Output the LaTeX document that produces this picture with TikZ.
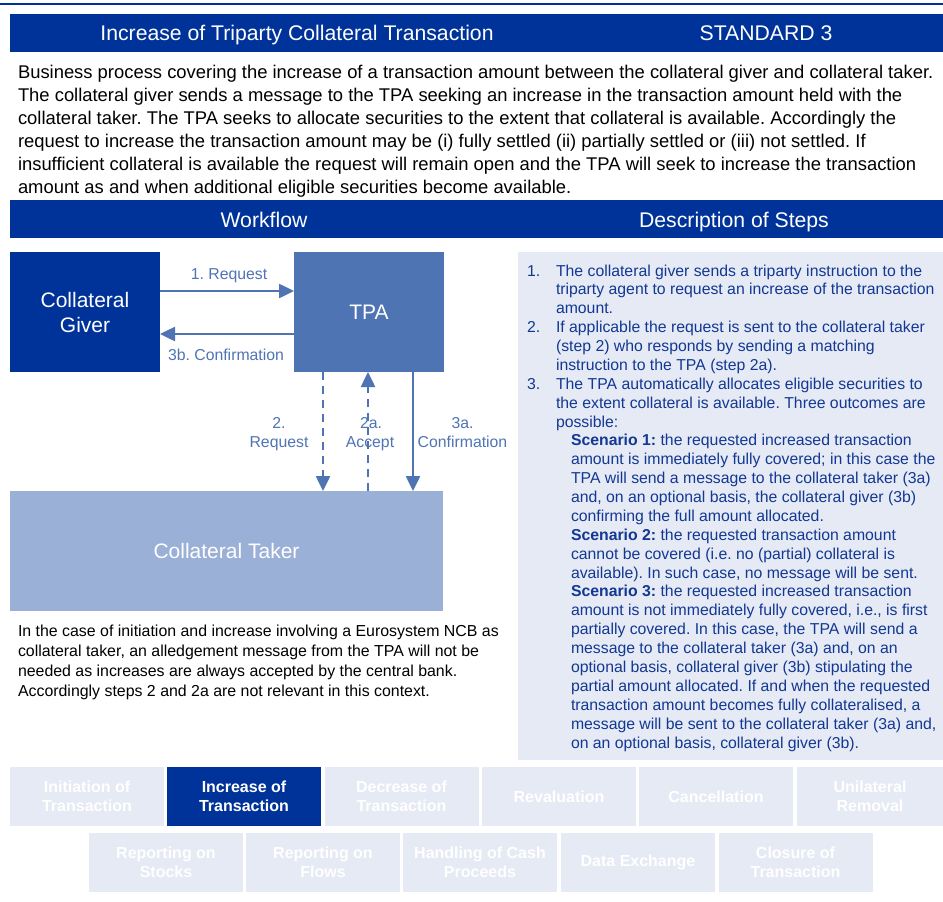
\documentclass[tikz,border=0pt]{standalone}
\usepackage{fontspec}
\setmainfont{Liberation Sans}
\usetikzlibrary{arrows.meta}
\definecolor{dkblue}{HTML}{003399}
\definecolor{mdblue}{HTML}{4F74B4}
\definecolor{ltblue}{HTML}{9AB0D6}
\definecolor{panel}{HTML}{E6EAF4}
\definecolor{desctext}{HTML}{123893}
\newcommand{\fsz}[2]{\fontsize{#1}{#2}\selectfont}
\begin{document}
\frenchspacing
\begin{tikzpicture}[x=1pt,y=-1pt,
  every node/.style={inner sep=0pt, outer sep=0pt},
  bar/.style={fill=dkblue, draw=none},
  bartext/.style={text=white, font=\fsz{21.2}{25}, anchor=base},
  blockbox/.style={minimum width=150pt, minimum height=120pt, text=white, font=\fsz{21}{25}, align=center},
  arr/.style={draw=mdblue, line width=2.5pt, -{Triangle[length=15pt,width=14pt]}},
  dashedarr/.style={arr, dash pattern=on 8pt off 6pt},
  lbl/.style={text=mdblue, font=\fsz{15.8}{19}, anchor=base},
  paraline/.style={anchor=base west, font=\fsz{18.4}{23}, text=black},
  noteline/.style={anchor=base west, font=\fsz{15.9}{20}, text=black},
  descline/.style={anchor=base west, font=\fsz{15.8}{19}, text=desctext},
  tab/.style={fill=panel, minimum width=154pt, minimum height=59pt, text=white, font=\bfseries\fsz{16}{19}, align=center},
  seltab/.style={tab, fill=dkblue}
]
\useasboundingbox (0,0) rectangle (943,902);
\fill[white] (0,0) rectangle (943,902);
% top rule and header
\fill[dkblue] (0,3) rectangle (943,5);
\node[bar, minimum width=933pt, minimum height=38pt, anchor=north west] (header) at (10,14) {};
\node[bartext] (title) at (297,40) {Increase of Triparty Collateral Transaction};
\node[bartext] (std) at (766,40) {STANDARD 3};
% intro paragraph
\foreach \t [count=\i] in {
 {Business process covering the increase of a transaction amount between the collateral giver and collateral taker.},
 {The collateral giver sends a message to the TPA seeking an increase in the transaction amount held with the},
 {collateral taker. The TPA seeks to allocate securities to the extent that collateral is available. Accordingly the},
 {request to increase the transaction amount may be (i) fully settled (ii) partially settled or (iii) not settled. If},
 {insufficient collateral is available the request will remain open and the TPA will seek to increase the transaction},
 {amount as and when additional eligible securities become available.}}
 \node[paraline] (p\i) at (18,{78+23*(\i-1)}) {\t};
% section bar
\node[bar, minimum width=933pt, minimum height=38pt, anchor=north west] (secbar) at (10,200) {};
\node[bartext] (wf) at (264,227) {Workflow};
\node[bartext] (ds) at (734,227) {Description of Steps};
% workflow boxes
\node[blockbox, fill=dkblue] (giver) at (85,312) {Collateral\\Giver};
\node[blockbox, fill=mdblue] (tpa) at (369,312) {TPA};
\node[blockbox, fill=ltblue, minimum width=433pt] (taker) at (226.5,551) {Collateral Taker};
\coordinate (yreq) at (0,291);
\coordinate (yconf) at (0,334);
\coordinate (xa) at (323,0);
\coordinate (xb) at (368,0);
\coordinate (xc) at (413,0);
\draw[arr] (giver.east |- yreq) -- (tpa.west |- yreq);
\draw[arr] (tpa.west |- yconf) -- (giver.east |- yconf);
\draw[dashedarr] (tpa.south -| xa) -- (taker.north -| xa);
\draw[dashedarr] (taker.north -| xb) -- (tpa.south -| xb);
\draw[arr] (tpa.south -| xc) -- (taker.north -| xc);
\node[lbl] (l1) at (229,279) {1. Request};
\node[lbl] (l3b) at (226,360) {3b. Confirmation};
\node[lbl] (l2a) at (279,428) {2.};
\node[lbl] (l2b) at (279,447) {Request};
\node[lbl] (l2aa) at (371,428) {2a.};
\node[lbl] (l2ab) at (370,447) {Accept};
\node[lbl] (l3aa) at (462.5,428) {3a.};
\node[lbl] (l3ab) at (462.5,447) {Confirmation};
% note
\foreach \t [count=\i] in {
 {In the case of initiation and increase involving a Eurosystem NCB as},
 {collateral taker, an alledgement message from the TPA will not be},
 {needed as increases are always accepted by the central bank.},
 {Accordingly steps 2 and 2a are not relevant in this context.}}
 \node[noteline] (n\i) at (18,{636+20.3*(\i-1)}) {\t};
% description panel
\node[fill=panel, minimum width=425pt, minimum height=508pt, anchor=north west] (desc) at (518,252) {};
\node[descline] (num1) at (527,276) {1.};
\node[descline] (num2) at (527,{276+3*18.88}) {2.};
\node[descline] (num3) at (527,{276+6*18.88}) {3.};
\foreach \xx/\t [count=\i] in {
 556/{The collateral giver sends a triparty instruction to the},
 556/{triparty agent to request an increase of the transaction},
 556/{amount.},
 556/{If applicable the request is sent to the collateral taker},
 556/{(step 2) who responds by sending a matching},
 556/{instruction to the TPA (step 2a).},
 556/{The TPA automatically allocates eligible securities to},
 556/{the extent collateral is available. Three outcomes are},
 556/{possible:},
 571/{\textbf{Scenario 1:} the requested increased transaction},
 571/{amount is immediately fully covered; in this case the},
 571/{TPA will send a message to the collateral taker (3a)},
 571/{and, on an optional basis, the collateral giver (3b)},
 571/{confirming the full amount allocated.},
 571/{\textbf{Scenario 2:} the requested transaction amount},
 571/{cannot be covered (i.e. no (partial) collateral is},
 571/{available). In such case, no message will be sent.},
 571/{\textbf{Scenario 3:} the requested increased transaction},
 571/{amount is not immediately fully covered, i.e., is first},
 571/{partially covered. In this case, the TPA will send a},
 571/{message to the collateral taker (3a) and, on an},
 571/{optional basis, collateral giver (3b) stipulating the},
 571/{partial amount allocated. If and when the requested},
 571/{transaction amount becomes fully collateralised, a},
 571/{message will be sent to the collateral taker (3a) and,},
 571/{on an optional basis, collateral giver (3b).}}
 \node[descline] (d\i) at (\xx,{276+18.88*(\i-1)}) {\t};
% navigation tabs
\node[tab] (t1) at (87,796.5) {Initiation of\\Transaction};
\node[seltab] (t2) at (244,796.5) {Increase of\\Transaction};
\node[tab] (t3) at (401.5,796.5) {Decrease of\\Transaction};
\node[tab] (t4) at (559,796.5) {Revaluation};
\node[tab] (t5) at (716,796.5) {Cancellation};
\node[tab, minimum width=146pt] (t6) at (870,796.5) {Unilateral\\Removal};
\node[tab] (t7) at (166,862.5) {Reporting on\\Stocks};
\node[tab] (t8) at (323,862.5) {Reporting on\\Flows};
\node[tab] (t9) at (480,862.5) {Handling of Cash\\Proceeds};
\node[tab] (t10) at (638,862.5) {Data Exchange};
\node[tab] (t11) at (795.5,862.5) {Closure of\\Transaction};
\end{tikzpicture}
\end{document}
